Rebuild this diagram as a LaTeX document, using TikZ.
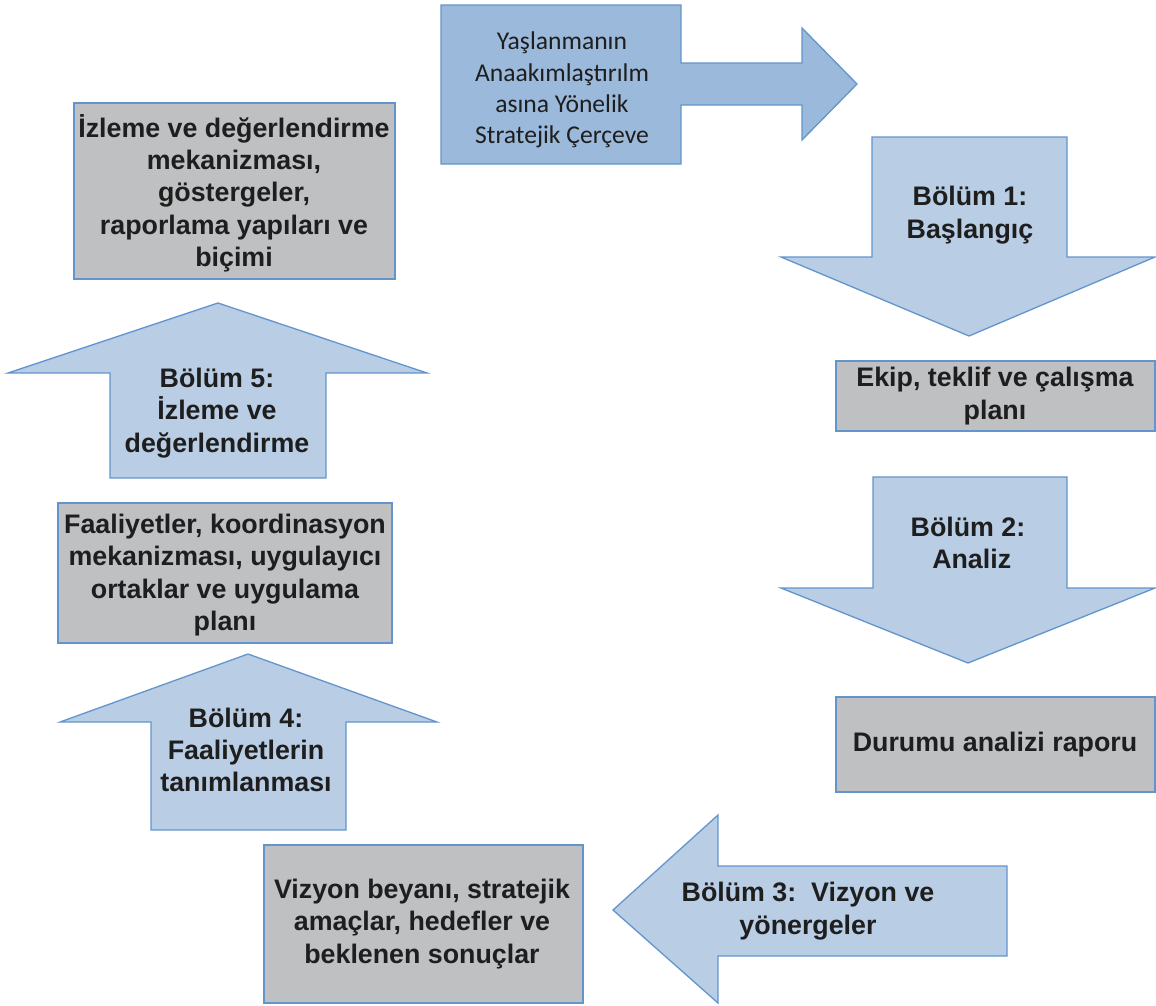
\documentclass[tikz,border=0pt]{standalone}
\usepackage{fontspec}
\setmainfont{Liberation Sans}
\newfontfamily\calfont{Carlito}
\definecolor{arrfill}{RGB}{185,205,229}
\definecolor{topfill}{RGB}{155,185,219}
\definecolor{bordblue}{RGB}{98,149,205}
\definecolor{grayfill}{RGB}{191,192,194}
\definecolor{txt}{RGB}{30,30,30}
\begin{document}
\begin{tikzpicture}[x=1pt,y=-1pt,
  arrowshape/.style={fill=arrfill,draw=bordblue,line width=1.3pt,line join=miter},
  topshape/.style={fill=topfill,draw=bordblue,line width=1.3pt,line join=miter},
  graybox/.style={fill=grayfill,draw=bordblue,line width=2pt},
  boldtxt/.style={font=\fontsize{26.8}{32.3}\selectfont\bfseries,text=txt,align=center,inner sep=0pt},
  caltxt/.style={font=\calfont\fontsize{25.6}{31.3}\selectfont,text=txt,align=center,inner sep=0pt}]
\useasboundingbox (0,0) rectangle (1156,1005);
% top box-arrow
\draw[topshape] (441,5) -- (681,5) -- (681,63) -- (802,63) -- (802,28) -- (857,84) -- (802,140) -- (802,105) -- (681,105) -- (681,164) -- (441,164) -- cycle;
\node[caltxt] (top) at (562,90) {Yaşlanmanın\\Anaakımlaştırılm\\asına Yönelik\\Stratejik Çerçeve};
% Bolum 1
\draw[arrowshape] (872,137) -- (1067,137) -- (1067,257) -- (1155,257) -- (969,336) -- (781,257) -- (872,257) -- cycle;
\node[boldtxt] (b1) at (970,215) {Bölüm 1:\\Başlangıç};
% Ekip
\node[graybox,minimum width=319pt,minimum height=70pt,inner sep=0pt] (ekip) at (995.5,396) {};
\node[boldtxt] (ekipt) at (995,396) {Ekip, teklif ve çalışma\\planı};
% Bolum 2
\draw[arrowshape] (873,477) -- (1067,477) -- (1067,588) -- (1155,588) -- (968,663) -- (781,588) -- (873,588) -- cycle;
\node[boldtxt] (b2) at (968,543) {Bölüm 2:\\\ Analiz};
% Durumu
\node[graybox,minimum width=319pt,minimum height=95pt,inner sep=0pt] (durum) at (995.5,744.5) {};
\node[boldtxt] (durumt) at (995,745) {Durumu analizi raporu};
% Bolum 3
\draw[arrowshape] (1007,866) -- (1007,956) -- (718,956) -- (718,1003) -- (613,910) -- (718,815) -- (718,866) -- cycle;
\node[boldtxt] (b3) at (808,911) {Bölüm 3:\ \ Vizyon ve\\yönergeler};
% Vizyon
\node[graybox,minimum width=319pt,minimum height=158pt,inner sep=0pt] (viz) at (423.5,924) {};
\node[boldtxt] (vizt) at (422,924) {Vizyon beyanı, stratejik\\amaçlar, hedefler ve\\beklenen sonuçlar};
% Bolum 4
\draw[arrowshape] (151,830) -- (346,830) -- (346,722) -- (437,722) -- (248,654) -- (60,722) -- (151,722) -- cycle;
\node[boldtxt] (b4) at (246,750) {Bölüm 4:\\Faaliyetlerin\\tanımlanması};
% Faaliyetler
\node[graybox,minimum width=334pt,minimum height=140pt,inner sep=0pt] (faal) at (225,573) {};
\node[boldtxt] (faalt) at (225,575) {Faaliyetler, koordinasyon\\mekanizması, uygulayıcı\\ortaklar ve uygulama\\planı};
% Bolum 5
\draw[arrowshape] (110,478) -- (326,478) -- (326,373) -- (427,373) -- (218,303) -- (8,373) -- (110,373) -- cycle;
\node[boldtxt] (b5) at (217,413) {Bölüm 5:\\İzleme ve\\değerlendirme};
% Izleme
\node[graybox,minimum width=321pt,minimum height=176pt,inner sep=0pt] (izl) at (234.5,191) {};
\node[boldtxt] (izlt) at (234,193) {İzleme ve değerlendirme\\mekanizması,\\göstergeler,\\raporlama yapıları ve\\biçimi};
\end{tikzpicture}
\end{document}
